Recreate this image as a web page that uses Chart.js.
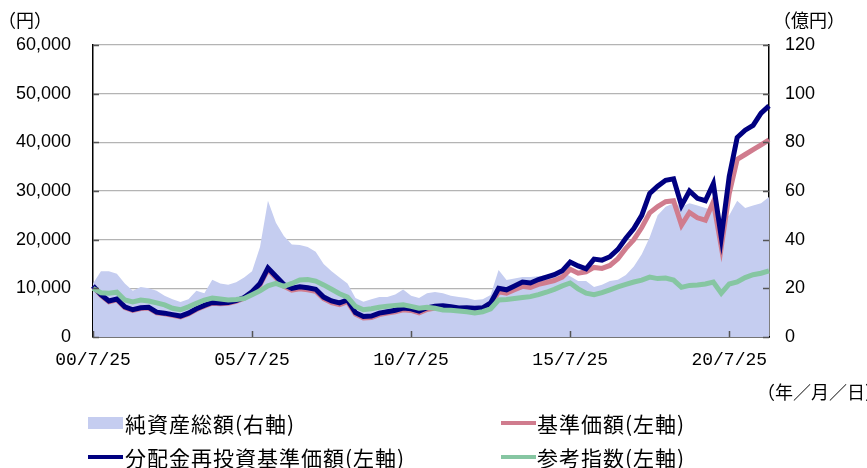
<!DOCTYPE html>
<html lang="ja">
<head>
<meta charset="UTF-8">
<title>基準価額と純資産総額の推移</title>
<script src="https://cdn.jsdelivr.net/npm/chart.js@4.4.0/dist/chart.umd.min.js"></script>
<style>
  body { margin: 0; background: #fff; }
  #wrap { position: relative; width: 867px; height: 468px; overflow: hidden; font-family: "Noto Sans CJK JP", sans-serif; }
  #chart { position: absolute; left: 0; top: 0; }
  .unit { position: absolute; font-size: 18px; line-height: 20px; color: #000; white-space: nowrap; }
  .leg { position: absolute; font-size: 21px; line-height: 24px; letter-spacing: 1px; color: #000; white-space: nowrap; }
  .sw { position: absolute; }
</style>
</head>
<body>
<div id="wrap">
  <canvas id="chart" width="867" height="468"></canvas>
  <div class="unit" style="left:-2px; top:9px;">（円）</div>
  <div class="unit" style="left:773px; top:9px;">（億円）</div>
  <div class="unit" style="left:757px; top:381px;">（年／月／日）</div>

  <div class="sw" style="left:88px; top:417px; width:35px; height:12px; background:#c5cdf0;"></div>
  <div class="leg" style="left:125px; top:411px;">純資産総額(右軸)</div>
  <div class="sw" style="left:501px; top:421px; width:35px; height:4px; background:#d07c8e;"></div>
  <div class="leg" style="left:537px; top:411px;">基準価額(左軸)</div>
  <div class="sw" style="left:88px; top:455px; width:35px; height:4px; background:#000080;"></div>
  <div class="leg" style="left:125px; top:445px;">分配金再投資基準価額(左軸)</div>
  <div class="sw" style="left:501px; top:455px; width:35px; height:4px; background:#86c6a2;"></div>
  <div class="leg" style="left:537px; top:445px;">参考指数(左軸)</div>
</div>

<script>
// quarterly dates (yy/m/25)
var dates = [
  '00/7/25','00/10/25',
  '01/1/25','01/4/25','01/7/25','01/10/25',
  '02/1/25','02/4/25','02/7/25','02/10/25',
  '03/1/25','03/4/25','03/7/25','03/10/25',
  '04/1/25','04/4/25','04/7/25','04/10/25',
  '05/1/25','05/4/25','05/7/25','05/10/25',
  '06/1/25','06/4/25','06/7/25','06/10/25',
  '07/1/25','07/4/25','07/7/25','07/10/25',
  '08/1/25','08/4/25','08/7/25','08/10/25',
  '09/1/25','09/4/25','09/7/25','09/10/25',
  '10/1/25','10/4/25','10/7/25','10/10/25',
  '11/1/25','11/4/25','11/7/25','11/10/25',
  '12/1/25','12/4/25','12/7/25','12/10/25',
  '13/1/25','13/4/25','13/7/25','13/10/25',
  '14/1/25','14/4/25','14/7/25','14/10/25',
  '15/1/25','15/4/25','15/7/25','15/10/25',
  '16/1/25','16/4/25','16/7/25','16/10/25',
  '17/1/25','17/4/25','17/7/25','17/10/25',
  '18/1/25','18/4/25','18/7/25','18/10/25',
  '19/1/25','19/4/25','19/7/25','19/10/25',
  '20/1/25','20/4/25','20/7/25','20/10/25',
  '21/1/25','21/4/25','21/7/25','21/10/25'
];
var tickDates = ['00/7/25','05/7/25','10/7/25','15/7/25','20/7/25'];

// 純資産総額 (億円, right axis)
var netAssets = [
  22, 27, 27, 26, 22, 19, 20.5, 20, 19, 17,
  15.5, 14.4, 15.5, 19, 18, 23.5, 22, 21.5, 22.5, 24.5,
  27, 37, 56, 47, 41.5, 38, 37.8, 37, 35, 30,
  27, 24.5, 22, 16, 14.5, 15.5, 16.4, 16.4, 17.5, 19.5,
  17, 16, 18, 18.5, 18, 17, 16.4, 16, 15.2, 15.5,
  17.3, 27.5, 23.4, 24, 24.7, 24.7, 25, 25.5, 26, 26.7,
  25, 23, 23, 20.5, 21.5, 23, 23.5, 25.5, 29, 34,
  41, 50, 53.5, 55, 53.5, 55, 54, 53, 52, 47.5,
  50, 56, 53, 54, 55, 57.5
];

// 基準価額 (円, left axis)
var navPrice = [
  10400, 8550, 7250, 7650, 6050, 5450, 5850, 5950, 4950, 4750,
  4450, 4150, 4750, 5650, 6350, 6950, 6850, 6950, 7350, 7950,
  9100, 10750, 13850, 12150, 10450, 9650, 9900, 9700, 9400, 7850,
  7050, 6650, 7250, 4700, 3900, 4000, 4600, 4900, 5200, 5600,
  5450, 4950, 5650, 5950, 6000, 5800, 5550, 5600, 5500, 5600,
  6550, 9300, 9000, 9700, 10400, 10200, 10800, 11200, 11600, 12300,
  13900, 13100, 13400, 14300, 14100, 14700, 16100, 18200, 20000, 22500,
  25500, 26800, 27800, 28000, 23000, 25600, 24500, 24000, 27800, 18500,
  29500, 36500, 37500, 38500, 39500, 40500
];

// 分配金再投資基準価額 (円, left axis)
var navReinvest = [
  10500, 8700, 7400, 7800, 6200, 5600, 6000, 6100, 5100, 4900,
  4600, 4300, 4900, 5800, 6500, 7100, 7000, 7100, 7500, 8100,
  9300, 11000, 14200, 12500, 10800, 10000, 10300, 10100, 9800, 8200,
  7400, 7000, 7600, 5000, 4200, 4300, 4900, 5200, 5500, 5950,
  5800, 5300, 6000, 6300, 6400, 6200, 5950, 6000, 5900, 6000,
  7000, 10000, 9700, 10500, 11300, 11100, 11800, 12300, 12800, 13600,
  15400, 14600, 14000, 16000, 15800, 16500, 18000, 20300, 22300, 25000,
  29500, 31000, 32200, 32500, 27000, 30000, 28500, 28000, 31500, 20500,
  33000, 41000, 42500, 43500, 46000, 47500
];

// 参考指数 (円, left axis)
var benchmark = [
  10000, 9100, 9000, 9200, 7600, 7200, 7600, 7400, 7000, 6600,
  5900, 5600, 6200, 6900, 7600, 8000, 7800, 7600, 7700, 7900,
  8700, 9500, 10500, 11000, 10400, 11000, 11700, 11800, 11500, 10700,
  9800, 8900, 8200, 6300, 5600, 5800, 6100, 6300, 6500, 6600,
  6300, 5900, 6100, 5900, 5550, 5500, 5350, 5200, 4950, 5200,
  5800, 7600, 7700, 7900, 8100, 8300, 8700, 9200, 9800, 10500,
  11100, 9900, 9000, 8700, 9100, 9700, 10300, 10800, 11300, 11700,
  12300, 12000, 12100, 11700, 10200, 10600, 10700, 10900, 11300, 9000,
  10900, 11300, 12200, 12800, 13100, 13600
];

// small tick marks pointing into the plot area
var innerTicks = {
  id: 'innerTicks',
  afterDraw: function(chart) {
    var ctx = chart.ctx, a = chart.chartArea;
    var x = chart.scales.x, y = chart.scales.y, y2 = chart.scales.y2;
    ctx.save();
    ctx.strokeStyle = '#555';
    ctx.lineWidth = 1.5;
    ctx.beginPath();
    tickDates.forEach(function(d) {
      var px = Math.round(x.getPixelForValue(dates.indexOf(d))) + 0.5;
      ctx.moveTo(px, a.bottom);
      ctx.lineTo(px, a.bottom - 6);
    });
    y.ticks.forEach(function(t) {
      var py = Math.round(y.getPixelForValue(t.value)) + 0.5;
      ctx.moveTo(a.left, py);
      ctx.lineTo(a.left + 6, py);
    });
    y2.ticks.forEach(function(t) {
      var py = Math.round(y2.getPixelForValue(t.value)) + 0.5;
      ctx.moveTo(a.right, py);
      ctx.lineTo(a.right - 6, py);
    });
    ctx.stroke();
    ctx.restore();
  }
};

var tickFont = { family: '"Liberation Sans", Arial, sans-serif', size: 18 };
var dateFont = { family: '"Liberation Mono", monospace', size: 18 };

new Chart(document.getElementById('chart'), {
  type: 'line',
  data: {
    labels: dates,
    datasets: [
      {
        label: '純資産総額(右軸)',
        data: netAssets,
        yAxisID: 'y2',
        fill: 'origin',
        backgroundColor: '#c5cdf0',
        borderWidth: 0,
        pointRadius: 0,
        order: 4
      },
      {
        label: '基準価額(左軸)',
        data: navPrice,
        yAxisID: 'y',
        borderColor: '#d07c8e',
        borderWidth: 5,
        pointRadius: 0,
        fill: false,
        order: 3
      },
      {
        label: '分配金再投資基準価額(左軸)',
        data: navReinvest,
        yAxisID: 'y',
        borderColor: '#000080',
        borderWidth: 5,
        pointRadius: 0,
        fill: false,
        order: 2
      },
      {
        label: '参考指数(左軸)',
        data: benchmark,
        yAxisID: 'y',
        borderColor: '#86c6a2',
        borderWidth: 5,
        pointRadius: 0,
        fill: false,
        order: 1
      }
    ]
  },
  options: {
    responsive: false,
    animation: false,
    devicePixelRatio: 1,
    layout: { padding: { top: 45, left: 0, right: 0, bottom: 0 } },
    plugins: { legend: { display: false }, tooltip: { enabled: false } },
    scales: {
      x: {
        type: 'category',
        offset: false,
        grid: { display: true, drawOnChartArea: false, drawTicks: false },
        border: { color: '#000', width: 1.5 },
        ticks: {
          autoSkip: false,
          maxRotation: 0,
          padding: 12,
          color: '#000',
          font: dateFont,
          callback: function(v, i) {
            return tickDates.indexOf(dates[i]) >= 0 ? dates[i] : '';
          }
        },
        afterFit: function(s) { s.height = 131; }
      },
      y: {
        position: 'left',
        min: 0,
        max: 60000,
        grid: { color: '#b4b4b4', lineWidth: 1.2, drawTicks: false },
        border: { color: '#000', width: 1.5 },
        ticks: {
          stepSize: 10000,
          padding: 22,
          color: '#000',
          font: tickFont,
          callback: function(v) { return v.toLocaleString('en-US'); }
        },
        afterFit: function(s) { s.width = 93; }
      },
      y2: {
        position: 'right',
        min: 0,
        max: 120,
        grid: { display: true, drawOnChartArea: false, drawTicks: false },
        border: { color: '#000', width: 1.5 },
        ticks: {
          stepSize: 20,
          padding: 16,
          color: '#000',
          font: tickFont
        },
        afterFit: function(s) { s.width = 98; }
      }
    }
  },
  plugins: [innerTicks]
});
</script>
</body>
</html>
